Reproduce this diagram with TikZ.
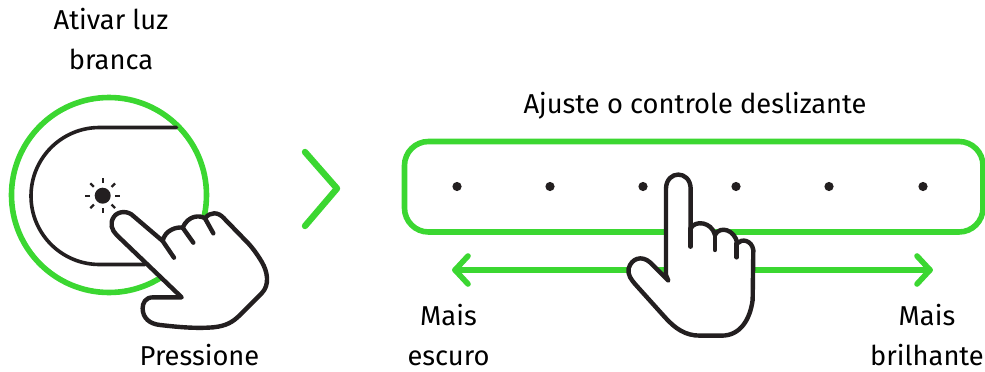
\documentclass[tikz,border=0pt]{standalone}
\usepackage{fontspec}
\usetikzlibrary{calc}
\setmainfont{Fira Sans}[Scale=1]
\definecolor{rzgreen}{HTML}{3BD731}
\definecolor{rzblack}{HTML}{231F20}
\tikzset{
 gline/.style={draw=rzgreen,line width=5.6pt,line cap=round,line join=round},
 kline/.style={draw=rzblack,line width=3.6pt,line cap=round,line join=round},
 hand/.style={draw=rzblack,line width=4.4pt,line cap=round,line join=round},
 lbl/.style={font=\fontsize{27.3}{40}\selectfont,text=black,align=center,inner sep=0pt},
}
\begin{document}
\begin{tikzpicture}[x=1pt,y=-1pt]
\useasboundingbox (0,0) rectangle (985,372);
% left button
\draw[gline] (109,195) circle (97.5);
\draw[kline] (176.5,127.5) -- (99.5,127.5) arc[start angle=270,end angle=90,radius=68.5] -- (145,264.5);
\fill[rzblack] (102.7,195.7) circle (8);
\foreach \a in {0,45,...,315}
  \draw[draw=rzblack,line width=2.3pt] ($(102.7,195.7)+(\a:12.5)$) -- ($(102.7,195.7)+(\a:17.5)$);
% left hand
\begin{scope}[shift={(0,90)},x=0.3333pt,y=-0.3333pt]
\draw[hand,fill=white] (545,622) -- (460,622)
  .. controls (435,622) and (428,640) .. (428,655)
  .. controls (428,685) and (450,702) .. (480,705)
  .. controls (540,712) and (590,716) .. (640,712)
  .. controls (680,708) and (700,695) .. (720,675)
  -- (785,610)
  .. controls (810,585) and (803,545) .. (785,515)
  .. controls (770,490) and (755,470) .. (740,455)
  -- (672,385)
  .. controls (655,365) and (630,365) .. (615,385)
  .. controls (600,375) and (565,375) .. (548,413)
  .. controls (530,410) and (495,420) .. (488,453)
  -- (400,378)
  .. controls (385,362) and (355,362) .. (342,380)
  .. controls (328,400) and (335,420) .. (350,435)
  -- cycle;
\draw[hand] (488,453) -- (522,503);
\draw[hand] (548,413) -- (580,458);
\draw[hand] (615,385) -- (640,430);
\end{scope}
\draw[gline,line width=6.4pt] (305,152) -- (337,188.5) -- (305,226);
% slider
\draw[gline,rounded corners=24pt] (404.5,141.5) rectangle (983,232);
\foreach \x in {457,550,643,736,829,923} \fill[rzblack] (\x,186.5) circle (4.6);
\draw[gline] (455,270) -- (930,270);
\draw[gline] (468,256) -- (455,270) -- (468,284);
\draw[gline] (917,256) -- (930,270) -- (917,284);
% right hand
\begin{scope}[shift={(600,160)},x=0.3333pt,y=-0.3333pt]
\draw[hand,fill=white] (205,362) -- (150,307)
  .. controls (125,285) and (95,295) .. (86,325)
  .. controls (82,345) and (95,360) .. (105,372)
  -- (195,472)
  .. controls (225,505) and (255,527) .. (300,527)
  -- (365,527)
  .. controls (420,527) and (450,480) .. (458,420)
  -- (460,270)
  .. controls (455,240) and (425,235) .. (412,250)
  .. controls (405,210) and (360,195) .. (345,225)
  .. controls (335,185) and (285,180) .. (272,205)
  -- (272,85)
  .. controls (270,30) and (200,30) .. (198,85)
  -- (198,345) -- cycle;
\draw[hand] (272,205) -- (272,260);
\draw[hand] (345,225) -- (345,270);
\draw[hand] (410,250) -- (410,292);
\end{scope}
% labels
\node[lbl] (ativar) at (111,39) {Ativar luz\\branca};
\node[lbl] (press) at (199.5,355.5) {Pressione};
\node[lbl] (ajuste) at (695,106) {Ajuste o controle deslizante};
\node[lbl] (escuro) at (448.5,335.5) {Mais\\escuro};
\node[lbl] (brilhante) at (927,335.5) {Mais\\brilhante};
\end{tikzpicture}
\end{document}
